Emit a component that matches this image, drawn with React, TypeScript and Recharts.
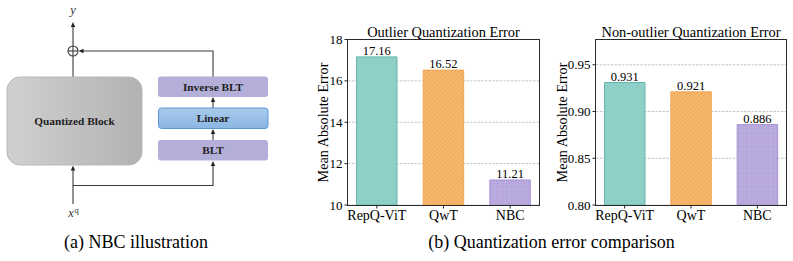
import { BarChart, Bar, XAxis, YAxis, CartesianGrid, Cell, LabelList } from 'recharts';

// --- data ---
const methods = ['RepQ-ViT', 'QwT', 'NBC'];
const outlierError = [17.16, 16.52, 11.21];
const nonOutlierError = [0.931, 0.921, 0.886];
const outlierTicks = [10, 12, 14, 16, 18];
const nonOutlierTicks = [0.8, 0.85, 0.9, 0.95];

const SERIF = '"Liberation Serif", "Times New Roman", Times, serif';
const fills = ['#8ecfc8', 'url(#hatchOrange)', 'url(#dotsPurple)'];
const strokes = ['#66b5ab', '#f2a655', '#a592d2'];

interface PanelProps {
  title: string;
  values: number[];
  ticks: number[];
  domain: [number, number];
  digits: number;
  left: number;
  width: number;
  yAxisWidth: number;
  marginLeft: number;
  marginRight: number;
  labelX: number;
}

function Panel(p: PanelProps) {
  const data = methods.map((m, i) => ({ method: m, value: p.values[i] }));
  const top = 39.5;
  const plotLeft = p.left + p.marginLeft + p.yAxisWidth;
  const plotRight = p.left + p.width - p.marginRight;
  return (
    <>
      <div
        style={{
          position: 'absolute',
          left: plotLeft - 20,
          width: plotRight - plotLeft + 40,
          top: 24,
          textAlign: 'center',
          fontFamily: SERIF,
          fontSize: 14.4,
          lineHeight: '17px',
          whiteSpace: 'nowrap',
        }}
      >
        {p.title}
      </div>
      <div
        style={{
          position: 'absolute',
          left: p.labelX - 80,
          top: 122 - 8.5,
          width: 160,
          textAlign: 'center',
          fontFamily: SERIF,
          fontSize: 14.2,
          lineHeight: '17px',
          transform: 'rotate(-90deg)',
        }}
      >
        Mean Absolute Error
      </div>
      <div style={{ position: 'absolute', left: p.left, top: 0 }}>
        <BarChart
          width={p.width}
          height={261}
          data={data}
          margin={{ top, right: p.marginRight, left: p.marginLeft, bottom: 26 }}
        >
          <CartesianGrid vertical={false} stroke="#c4c4c4" strokeDasharray="2.5 1.2" />
          <XAxis
            dataKey="method"
            axisLine={false}
            tickLine={{ stroke: '#222' }}
            tickSize={3.5}
            height={30}
            padding={{ left: -4.5, right: -4.5 }}
            tick={{ fill: '#000', fontFamily: SERIF, fontSize: 14 }}
            interval={0}
          />
          <YAxis
            type="number"
            domain={p.domain}
            ticks={p.ticks}
            allowDataOverflow
            width={p.yAxisWidth}
            axisLine={false}
            tickLine={{ stroke: '#222' }}
            tickSize={3.5}
            tick={{ fill: '#000', fontFamily: SERIF, fontSize: 13 }}
            tickFormatter={(v: number) => (p.digits === 3 ? v.toFixed(2) : String(v))}
          />
          <Bar dataKey="value" barSize={40.5} isAnimationActive={false} strokeWidth={1}>
            {data.map((d, i) => (
              <Cell key={d.method} fill={fills[i]} stroke={strokes[i]} />
            ))}
            <LabelList
              dataKey="value"
              position="top"
              offset={2}
              formatter={(v: any) => Number(v).toFixed(p.digits)}
              style={{ fill: '#000', fontFamily: SERIF, fontSize: 12.5 }}
            />
          </Bar>
        </BarChart>
      </div>
      <div
        style={{
          position: 'absolute',
          left: plotLeft - 0.6,
          top: top - 0.6,
          width: plotRight - plotLeft + 1.2,
          height: 205 - top + 1.2,
          border: '1.3px solid #2a2a2a',
          boxSizing: 'border-box',
          pointerEvents: 'none',
        }}
      />
    </>
  );
}

function Arrow({ x, y, dir }: { x: number; y: number; dir: 'up' | 'left' }) {
  const pts =
    dir === 'up'
      ? `${x},${y} ${x - 2.2},${y + 5} ${x + 2.2},${y + 5}`
      : `${x},${y} ${x + 5},${y - 2.2} ${x + 5},${y + 2.2}`;
  return <polygon points={pts} fill="#222" />;
}

function Diagram() {
  const line = { stroke: '#3a3a3a', strokeWidth: 1.1, fill: 'none' };
  const boxText = { fontFamily: SERIF, fontWeight: 700, fontSize: 11.3, fill: '#222', textAnchor: 'middle' as const };
  return (
    <svg width={290} height={230} style={{ position: 'absolute', left: 0, top: 0 }}>
      <defs>
        <linearGradient id="qblock" x1="0" x2="1" y1="0" y2="0">
          <stop offset="0" stopColor="#d0d0d0" />
          <stop offset="1" stopColor="#b2b2b2" />
        </linearGradient>
        <linearGradient id="linearBox" x1="0" x2="0" y1="0" y2="1">
          <stop offset="0" stopColor="#a9cbec" />
          <stop offset="1" stopColor="#8ab6e2" />
        </linearGradient>
      </defs>
      {/* main path */}
      <line x1={73} y1={77} x2={73} y2={56} {...line} />
      <line x1={73} y1={46} x2={73} y2={27} {...line} />
      <Arrow x={73} y={22} dir="up" />
      <circle cx={73} cy={51} r={5} {...line} />
      <line x1={68} y1={51} x2={78} y2={51} {...line} />
      <line x1={73} y1={46} x2={73} y2={56} {...line} />
      {/* branch back into sum */}
      <polyline points="213,77 213,51 83,51" {...line} />
      <Arrow x={78.5} y={51} dir="left" />
      {/* input */}
      <line x1={73} y1={204} x2={73} y2={170} {...line} />
      <Arrow x={73} y={165.5} dir="up" />
      <polyline points="73,185.5 213,185.5 213,166" {...line} />
      <Arrow x={213} y={161} dir="up" />
      <line x1={213} y1={140} x2={213} y2={134} {...line} />
      <Arrow x={213} y={129} dir="up" />
      <line x1={213} y1={108} x2={213} y2={102} {...line} />
      <Arrow x={213} y={97} dir="up" />
      {/* blocks */}
      <rect x={7} y={77} width={135} height={88} rx={13} fill="url(#qblock)" stroke="#b8b8b8" />
      <text x={74.5} y={124.5} {...boxText}>Quantized Block</text>
      <rect x={158} y={76.5} width={110} height={20.5} rx={3} fill="#b3afd9" />
      <text x={213} y={90.8} {...boxText}>Inverse BLT</text>
      <rect x={158.5} y={108} width={109.5} height={20.5} rx={3} fill="url(#linearBox)" stroke="#5b9ad6" />
      <text x={213} y={122.3} {...boxText}>Linear</text>
      <rect x={158} y={140} width={110} height={20.5} rx={3} fill="#b3afd9" />
      <text x={213} y={154.3} {...boxText}>BLT</text>
      {/* symbols */}
      <text x={73} y={14} fontFamily={SERIF} fontStyle="italic" fontSize={12.5} textAnchor="middle" fill="#333">
        y
      </text>
      <text x={71} y={217} fontFamily={SERIF} fontStyle="italic" fontSize={12.5} textAnchor="middle" fill="#333">
        x
      </text>
      <text x={76.5} y={212.5} fontFamily={SERIF} fontSize={8.5} textAnchor="middle" fill="#333">
        q
      </text>
    </svg>
  );
}

export default function App() {
  return (
    <div
      style={{
        position: 'absolute',
        left: 0,
        top: 0,
        width: 793,
        height: 261,
        background: '#fff',
        overflow: 'hidden',
      }}
    >
      <svg width={0} height={0} style={{ position: 'absolute' }}>
        <defs>
          <pattern id="hatchOrange" width={3.2} height={3.2} patternUnits="userSpaceOnUse" patternTransform="rotate(45)">
            <rect width={3.2} height={3.2} fill="#f6b76c" />
            <line x1={0} y1={0} x2={0} y2={3.2} stroke="#e9a04f" strokeWidth={1} />
          </pattern>
          <pattern id="dotsPurple" width={2.5} height={2.5} patternUnits="userSpaceOnUse">
            <rect width={2.5} height={2.5} fill="#bcaee0" />
            <circle cx={1.25} cy={1.25} r={0.6} fill="#a895d6" />
          </pattern>
        </defs>
      </svg>
      <Diagram />
      <div
        style={{
          position: 'absolute',
          left: 0,
          width: 272,
          top: 232,
          textAlign: 'center',
          fontFamily: SERIF,
          fontSize: 18,
          lineHeight: '21px',
        }}
      >
        (a) NBC illustration
      </div>
      <Panel
        title="Outlier Quantization Error"
        values={outlierError}
        ticks={outlierTicks}
        domain={[10, 18]}
        digits={2}
        left={300}
        width={250}
        yAxisWidth={30}
        marginLeft={18}
        marginRight={11}
        labelX={323}
      />
      <Panel
        title="Non-outlier Quantization Error"
        values={nonOutlierError}
        ticks={nonOutlierTicks}
        domain={[0.8, 0.977]}
        digits={3}
        left={550}
        width={243}
        yAxisWidth={36}
        marginLeft={10}
        marginRight={7}
        labelX={562}
      />
      <div
        style={{
          position: 'absolute',
          left: 330,
          width: 443,
          top: 232,
          textAlign: 'center',
          fontFamily: SERIF,
          fontSize: 18,
          lineHeight: '21px',
        }}
      >
        (b) Quantization error comparison
      </div>
    </div>
  );
}
